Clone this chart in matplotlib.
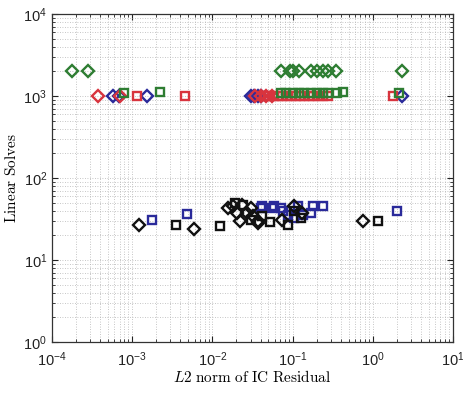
import math
import matplotlib
matplotlib.use("Agg")
import matplotlib.pyplot as plt
from matplotlib.ticker import FuncFormatter, LogLocator, NullFormatter

plt.rcParams['mathtext.fontset'] = 'cm'
plt.rcParams['font.family'] = 'Liberation Sans'

# green diamonds (2000 linear solves)
gd_x = [1.8e-4, 2.8e-4, 0.071, 0.094, 0.102, 0.122, 0.17, 0.20, 0.24, 0.28, 0.35, 2.3]
gd_y = [2000, 2000, 2000, 2000, 2000, 2000, 2000, 2000, 2000, 2000, 2000, 2000]
# green squares
gs_x = [7.9e-4, 2.2e-3, 0.071, 0.084, 0.10, 0.119, 0.141, 0.168, 0.20, 0.237, 0.28, 0.355, 0.43, 2.1]
gs_y = [1100, 1120, 1100, 1100, 1100, 1100, 1100, 1100, 1100, 1100, 1100, 1100, 1120, 1080]
# blue diamonds
bd_x = [5.8e-4, 6.9e-4, 1.54e-3, 0.030, 0.033, 0.037, 0.041, 2.3]
bd_y = [1000, 1000, 1000, 1000, 1000, 1000, 1000, 1000]
# red squares
rs_x = [1.15e-3, 4.5e-3, 0.045, 0.05, 0.058, 0.066, 0.075, 0.085, 0.096, 0.11,
        0.125, 0.14, 0.16, 0.18, 0.21, 0.24, 0.28, 1.78]
rs_y = [1000, 1000, 1000, 1000, 1000, 1000, 1000, 1000, 1000, 1000,
        1000, 1000, 1000, 1000, 1000, 1000, 1000, 1000]
# red diamonds
rd_x = [3.7e-4, 7.0e-4, 0.034, 0.040, 0.047, 0.055]
rd_y = [1000, 1000, 1000, 1000, 1000, 1000]

# lower cluster
bs_x = [1.78e-3, 4.9e-3, 0.040, 0.042, 0.056, 0.058, 0.071, 0.077, 0.089, 0.103,
        0.116, 0.137, 0.168, 0.178, 0.24, 2.0]
bs_y = [31, 36, 43, 46, 43, 46, 43, 40, 35, 32.5, 46, 35, 37, 46, 46, 39]
kd_x = [1.23e-3, 5.9e-3, 0.0158, 0.0183, 0.0205, 0.0237, 0.0224, 0.0274, 0.030,
        0.0326, 0.0376, 0.0366, 0.103, 0.133, 0.075, 0.75]
kd_y = [27, 24, 43, 46, 37, 47, 30, 37, 43, 34, 28, 30, 46, 37, 31, 30]
ks_x = [3.55e-3, 0.0126, 0.019, 0.0244, 0.030, 0.042, 0.053, 0.089, 0.103, 0.126, 1.15]
ks_y = [27, 26, 49, 47, 31, 34, 29, 27, 40, 32, 30]

green = '#2e7d32'
red = '#d8343e'
blue = '#2a2a9a'
black = '#111111'

fig = plt.figure(figsize=(4.64, 3.98), dpi=100)
ax = fig.add_axes([0.112, 0.141, 0.864, 0.824])

mk = dict(linestyle='none', markerfacecolor='none', markeredgewidth=1.7)
ax.plot(gd_x, gd_y, 'D', color=green, markersize=6.3, **mk)
ax.plot(bd_x, bd_y, 'D', color=blue, markersize=6.3, **mk)
ax.plot(rs_x, rs_y, 's', color=red, markersize=5.8, **mk)
ax.plot(rd_x, rd_y, 'D', color=red, markersize=6.3, **mk)
ax.plot(gs_x, gs_y, 's', color=green, markersize=5.8, **mk)
ax.plot(bs_x, bs_y, 's', color=blue, markersize=5.8, **mk)
ax.plot(kd_x, kd_y, 'D', color=black, markersize=6.3, **mk)
ax.plot(ks_x, ks_y, 's', color=black, markersize=5.8, **mk)

ax.set_xscale('log')
ax.set_yscale('log')
ax.set_xlim(1e-4, 1e1)
ax.set_ylim(1e0, 1e4)

ax.xaxis.set_major_locator(LogLocator(base=10, numticks=10))
ax.yaxis.set_major_locator(LogLocator(base=10, numticks=10))
ax.xaxis.set_minor_locator(LogLocator(base=10, subs=range(2, 10), numticks=20))
ax.yaxis.set_minor_locator(LogLocator(base=10, subs=range(2, 10), numticks=20))
fmt = FuncFormatter(lambda v, p: r'$\mathregular{10^{%d}}$' % round(math.log10(v)))
ax.xaxis.set_major_formatter(fmt)
ax.yaxis.set_major_formatter(fmt)
ax.xaxis.set_minor_formatter(NullFormatter())
ax.yaxis.set_minor_formatter(NullFormatter())

ax.grid(True, which='both', linestyle=(0, (1, 2)), color='#b4b4b4', linewidth=0.6)
ax.set_axisbelow(True)
ax.tick_params(which='both', direction='in', top=True, right=True, labelsize=10.5, colors='#222222')
ax.tick_params(axis='x', which='major', pad=6)
ax.tick_params(which='major', length=4)
ax.tick_params(which='minor', length=2)
for s in ax.spines.values():
    s.set_color('#333333')
    s.set_linewidth(0.9)

ax.set_xlabel(r'$L2$ $\mathrm{norm\ of\ IC\ Residual}$', fontsize=11, labelpad=0)
ax.set_ylabel(r'$\mathrm{Linear\ Solves}$', fontsize=11, labelpad=3)

fig.savefig('out.png', dpi=100)
